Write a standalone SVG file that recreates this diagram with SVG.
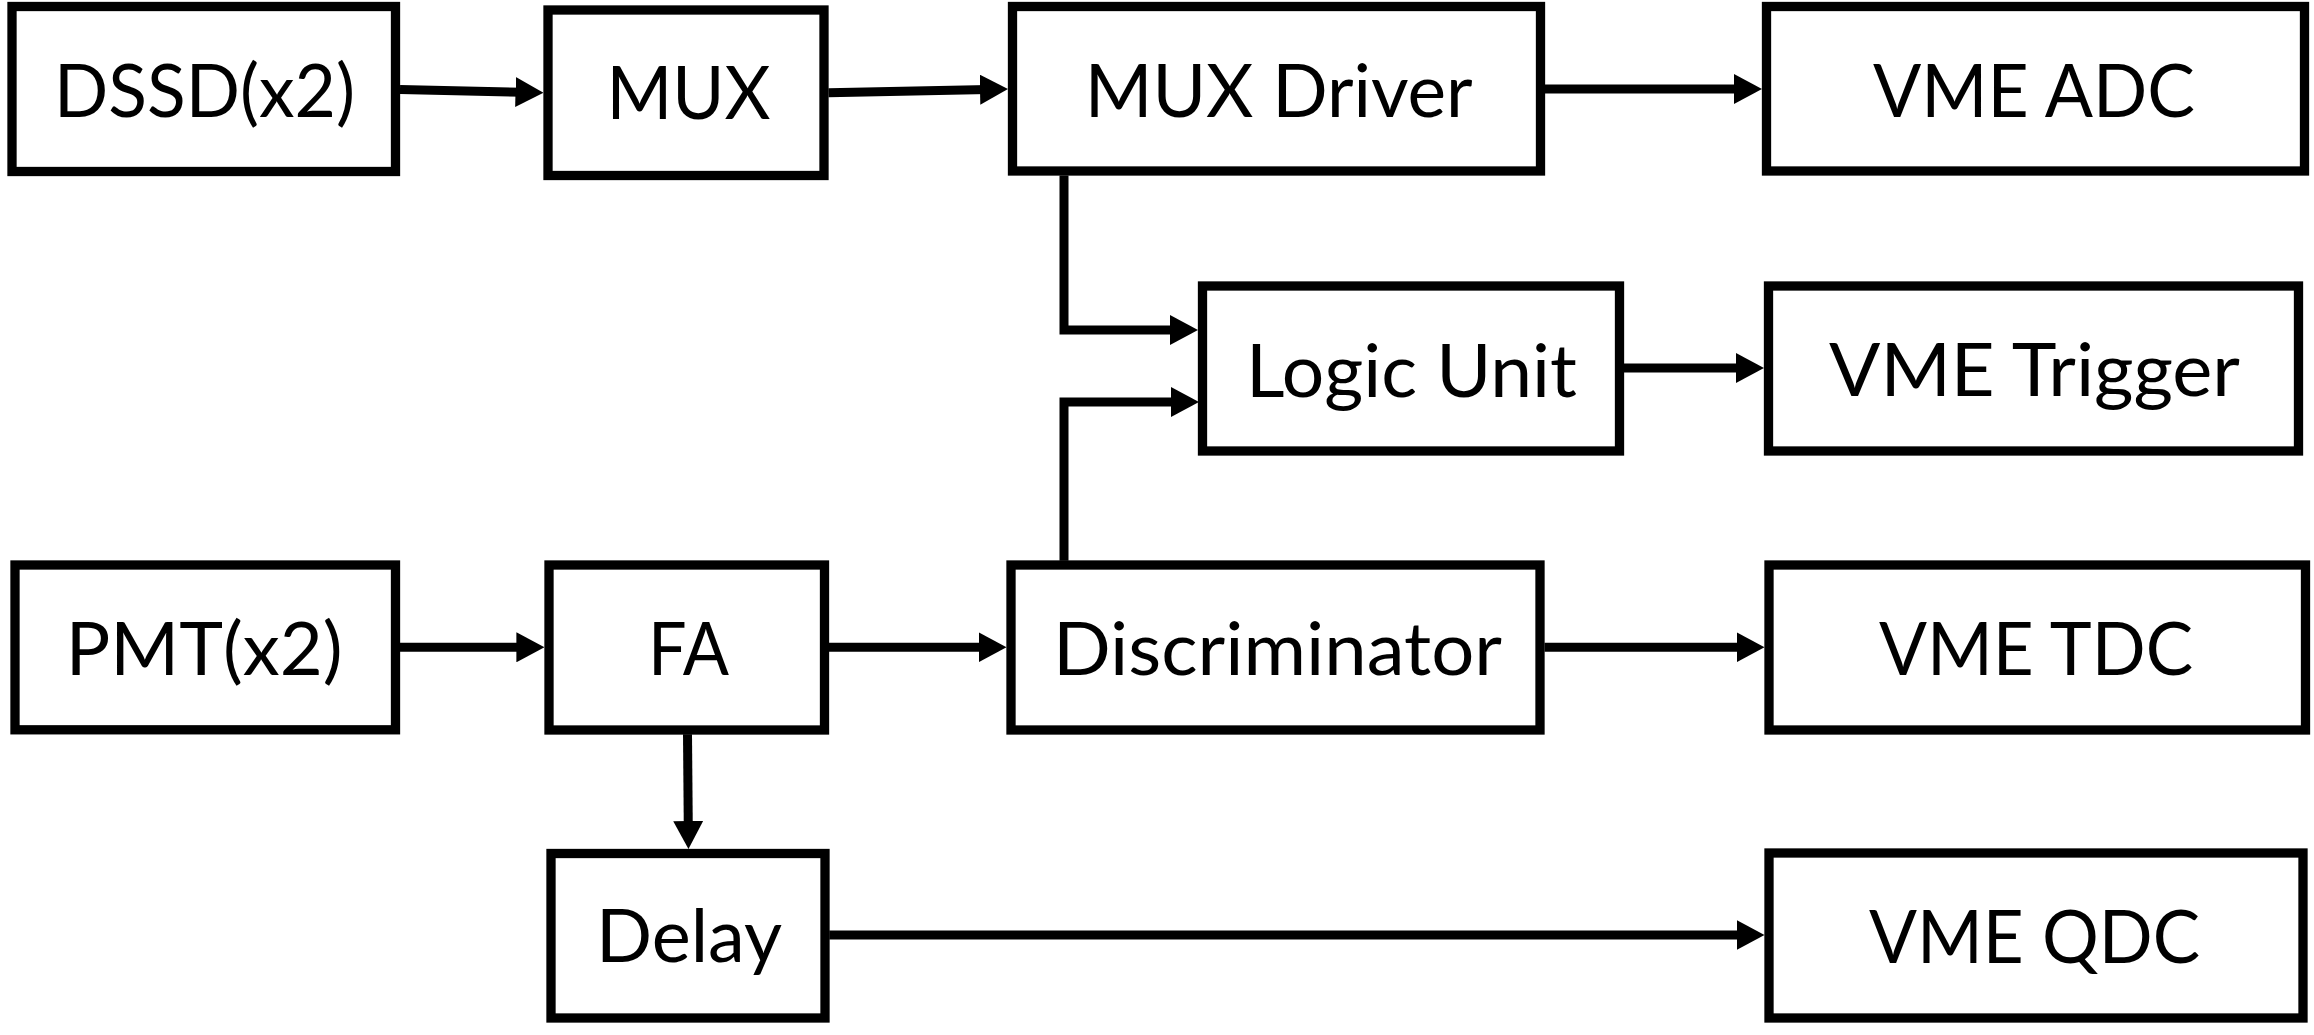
<svg xmlns="http://www.w3.org/2000/svg" width="2314" height="1035" viewBox="0 0 2314 1035">
<style>
.box{fill:#fff;stroke:#000;stroke-width:9.3}
.lbl{font-family:Lato,"Open Sans",sans-serif;font-size:73px;fill:#000}
.con{fill:none;stroke:#000;stroke-width:9;marker-end:url(#ah)}
</style>
<defs>
<marker id="ah" markerUnits="userSpaceOnUse" markerWidth="28" markerHeight="30" refX="8" refY="15" orient="auto" viewBox="0 0 28 30">
<path d="M0,0 L28,15 L0,30 z" fill="#000"/>
</marker>
</defs>
<rect width="2314" height="1035" fill="#fff"/>
<g id="connectors">
<path class="con" d="M400,89.5 L523.5,92.3"/>
<path class="con" d="M828.5,92.7 L988,89.5"/>
<path class="con" d="M1545,89 L1742,89"/>
<path class="con" d="M1064,175.5 V330 H1178"/>
<path class="con" d="M1064,560.7 V402 H1179"/>
<path class="con" d="M1624,368 L1744,368"/>
<path class="con" d="M400,647.3 L524.4,647.3"/>
<path class="con" d="M829,647.3 L986.5,647.3"/>
<path class="con" d="M1544.5,647.3 L1744.5,647.3"/>
<path class="con" d="M687.5,734.3 L688.3,829"/>
<path class="con" d="M829.3,935 L1744.5,935"/>
</g>
<g id="dssd"><rect class="box" x="12" y="6.5" width="383.5" height="165"/><text class="lbl" x="54" y="116.7" textLength="301" lengthAdjust="spacingAndGlyphs">DSSD(x2)</text></g>
<g id="mux"><rect class="box" x="548" y="10" width="276" height="165.5"/><text class="lbl" x="606.5" y="119.3" textLength="164" lengthAdjust="spacingAndGlyphs">MUX</text></g>
<g id="muxdriver"><rect class="box" x="1012.5" y="6.5" width="528" height="164.5"/><text class="lbl" x="1084.7" y="116.7" textLength="388" lengthAdjust="spacingAndGlyphs">MUX Driver</text></g>
<g id="vmeadc"><rect class="box" x="1766.5" y="6.5" width="538" height="164.5"/><text class="lbl" x="1873" y="116.7" textLength="322" lengthAdjust="spacingAndGlyphs">VME ADC</text></g>
<g id="logicunit"><rect class="box" x="1202.5" y="286" width="417" height="165"/><text class="lbl" x="1246" y="396.6" textLength="331" lengthAdjust="spacingAndGlyphs">Logic Unit</text></g>
<g id="vmetrigger"><rect class="box" x="1768.5" y="286" width="530" height="165"/><text class="lbl" x="1829" y="396.3" textLength="411" lengthAdjust="spacingAndGlyphs">VME Trigger</text></g>
<g id="pmt"><rect class="box" x="15" y="565" width="380.5" height="164.8"/><text class="lbl" x="65.7" y="675" textLength="277" lengthAdjust="spacingAndGlyphs">PMT(x2)</text></g>
<g id="fa"><rect class="box" x="549" y="565" width="275.5" height="165"/><text class="lbl" x="648" y="675" textLength="81" lengthAdjust="spacingAndGlyphs">FA</text></g>
<g id="discriminator"><rect class="box" x="1011" y="565" width="529" height="165"/><text class="lbl" x="1053" y="675" textLength="449" lengthAdjust="spacingAndGlyphs">Discriminator</text></g>
<g id="vmetdc"><rect class="box" x="1769" y="565" width="536.5" height="165"/><text class="lbl" x="1879" y="675" textLength="314" lengthAdjust="spacingAndGlyphs">VME TDC</text></g>
<g id="delay"><rect class="box" x="551" y="853.5" width="274" height="164.5"/><text class="lbl" x="596" y="962.3" textLength="186" lengthAdjust="spacingAndGlyphs">Delay</text></g>
<g id="vmeqdc"><rect class="box" x="1769" y="853" width="534" height="165"/><text class="lbl" x="1869" y="963.3" textLength="331" lengthAdjust="spacingAndGlyphs">VME QDC</text></g>
</svg>
